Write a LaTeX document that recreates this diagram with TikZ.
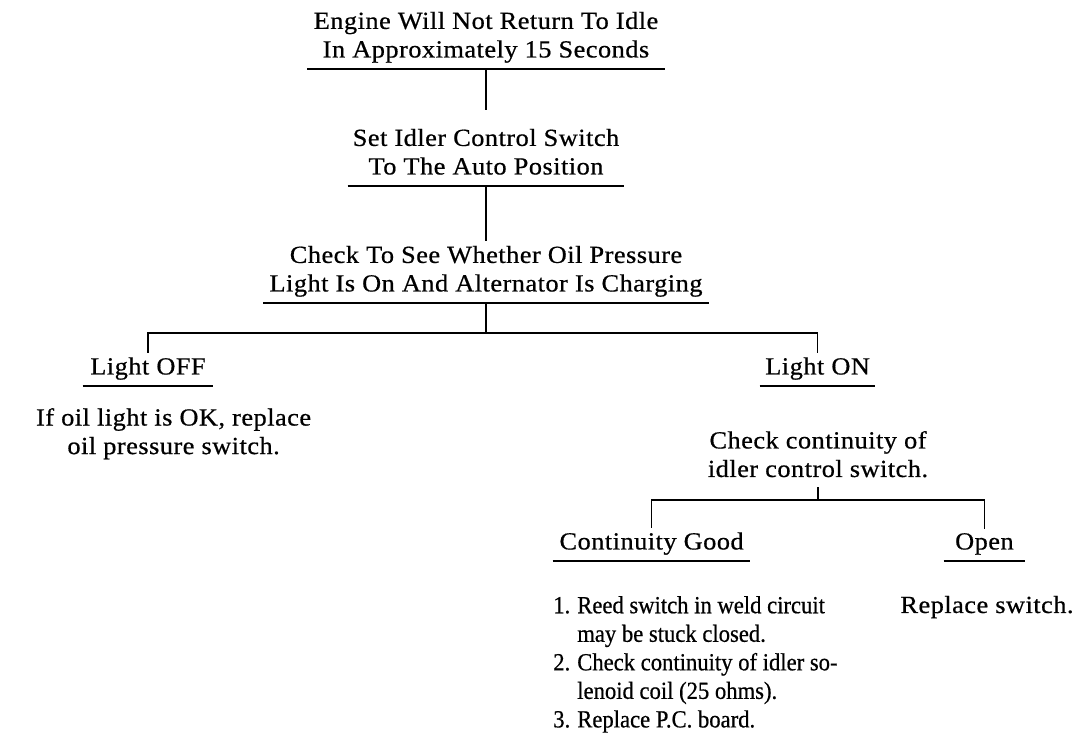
\documentclass[tikz,border=0pt]{standalone}
\usepackage{fontspec}
\setmainfont{Liberation Serif}[FakeStretch=1.07,LetterSpace=2,FakeBold=0.6]
\newfontfamily\listserif{Liberation Serif}[FakeStretch=0.92,FakeBold=0.6]
\usepackage{tikz}
\newcommand\chartfont{\fontsize{17.5}{20.3}\selectfont}
\newcommand\listfont{\listserif\fontsize{17.5}{20.3}\selectfont}

\begin{document}
\begin{tikzpicture}[
   hd/.style={anchor=south,align=center,inner xsep=0pt,inner ysep=3pt,text depth=5pt,font=\chartfont},
   txt/.style={inner sep=0pt,align=center,font=\chartfont},
   ln/.style={line width=1.1pt}]
  \useasboundingbox (0,0) rectangle (26.9,18.4);
  \node[hd,minimum width=8.93cm] (eng) at (12.15,16.675) {Engine Will Not Return To Idle\\In Approximately 15 Seconds};
  \node[hd,minimum width=6.9cm] (set) at (12.15,13.75) {Set Idler Control Switch\\To The Auto Position};
  \node[hd,minimum width=11.13cm] (chk) at (12.15,10.825) {Check To See Whether Oil Pressure\\Light Is On And Alternator Is Charging};
  \node[hd,minimum width=3.25cm] (off) at (3.7,8.75) {Light OFF};
  \node[hd,minimum width=2.88cm] (on) at (20.44,8.75) {Light ON};
  \node[txt] (offfix) at (4.34,7.556) {If oil light is OK, replace\\oil pressure switch.};
  \node[txt] (ontest) at (20.45,7.044) {Check continuity of\\idler control switch.};
  \node[hd,minimum width=4.93cm] (good) at (16.29,4.375) {Continuity Good};
  \node[hd,minimum width=2.03cm] (open) at (24.61,4.375) {Open};
  \node[txt,anchor=north west,align=left,font=\listfont] (goodfix) at (13.825,3.575) {\begin{tabular}{@{}r@{\hspace{5pt}}l@{}}1. & Reed switch in weld circuit\\ & may be stuck closed.\\2. & Check continuity of idler so-\\ & lenoid coil (25 ohms).\\3. & Replace P.C. board.\end{tabular}};
  \node[txt,anchor=base] (openfix) at (24.675,3.075) {Replace switch.};
  % underlines
  \draw[ln] (eng.south west) -- (eng.south east);
  \draw[ln] (set.south west) -- (set.south east);
  \draw[ln] (chk.south west) -- (chk.south east);
  \draw[ln] (off.south west) -- (off.south east);
  \draw[ln] (on.south west) -- (on.south east);
  \draw[ln] (good.south west) -- (good.south east);
  \draw[ln] (open.south west) -- (open.south east);
  % connectors
  \coordinate (br1) at (12.15,10.075);
  \coordinate (br2) at (20.44,5.9);
  \draw[ln,shorten >=10pt] (eng.south) -- (set.north);
  \draw[ln] (set.south) -- (chk.north);
  \draw[ln] (chk.south) -- (chk.south |- br1);
  \draw[ln] (off.north) |- (br1) -| (on.north);
  \draw[ln,shorten <=7pt] (ontest.south) -- (ontest.south |- br2);
  \draw[ln] (good.north) |- (br2) -| (open.north);
\end{tikzpicture}
\end{document}
